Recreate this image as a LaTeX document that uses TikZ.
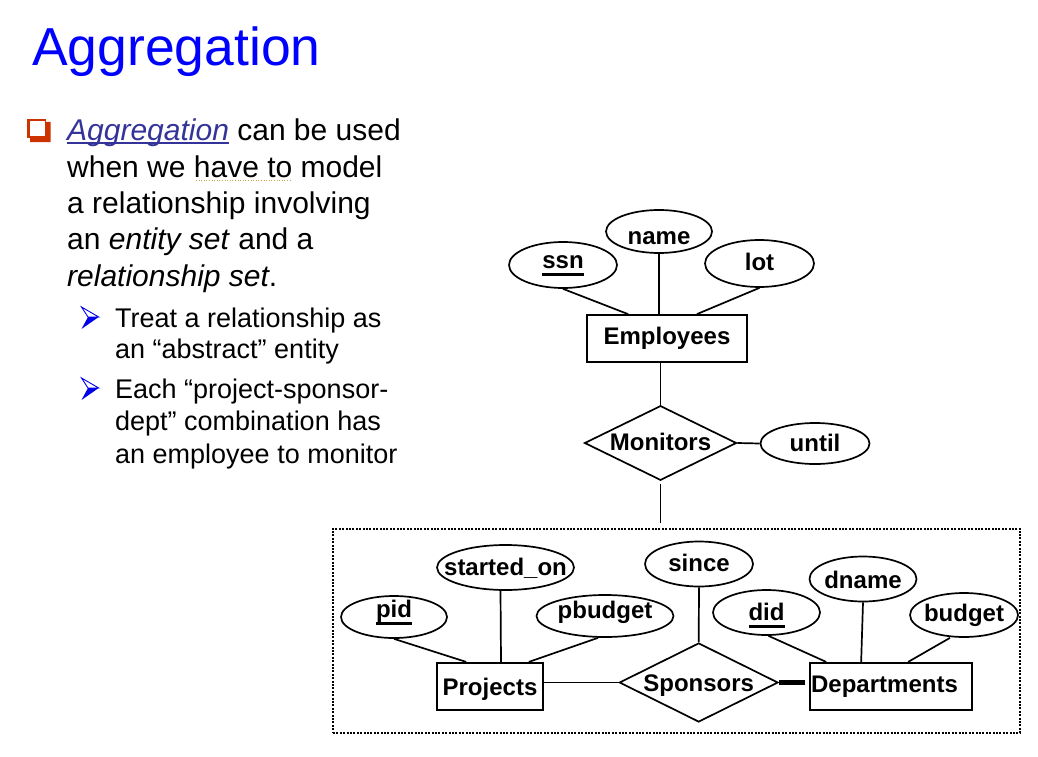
\documentclass[tikz,border=0pt]{standalone}
\usepackage{fontspec}
\setmainfont{Liberation Sans}
\usetikzlibrary{shapes.geometric}

\definecolor{titleblue}{RGB}{0,0,255}
\definecolor{linkblue}{RGB}{51,51,153}
\definecolor{bulletred}{RGB}{204,51,0}
\definecolor{arrowblue}{RGB}{0,0,235}
\definecolor{spellgold}{RGB}{205,160,80}

% thick underline for key attributes
\newsavebox\keybox
\newcommand\keyattr[1]{\sbox\keybox{#1}\rlap{\rule[-8pt]{\wd\keybox}{3.2pt}}\usebox\keybox}
% thin underline that runs through the descenders
\newcommand\linkul[1]{\sbox\keybox{#1}\rlap{\rule[-3.8pt]{\wd\keybox}{1.4pt}}\usebox\keybox}
% zero-width centred label, so the shape keeps its given size
\newcommand\zw[1]{\makebox[0pt]{#1}}

\begin{document}
\begin{tikzpicture}[x=1pt,y=-1pt,
  erfont/.style={font=\fontsize{24}{28}\selectfont\bfseries},
  attr/.style={ellipse, draw, line width=1.7pt, inner sep=0pt, erfont},
  ent/.style={rectangle, draw, line width=1.7pt, inner sep=0pt, erfont},
  rel/.style={diamond, aspect=2, draw, line width=1.7pt, inner sep=0pt, erfont},
  tb/.style={text height=#1, text depth=0pt},
  link/.style={line width=1.7pt},
  total/.style={line width=5pt},
  aggbox/.style={draw, line width=2pt, dash pattern=on 2pt off 1.4pt, inner sep=0pt},
  body/.style={anchor=base west, inner sep=0pt, font=\fontsize{30}{36}\selectfont},
  subbody/.style={anchor=base west, inner sep=0pt, font=\fontsize{27}{32}\selectfont}]

\useasboundingbox (0,0) rectangle (1038,757);
\fill[white] (0,0) rectangle (1038,757);

% ---------- title ----------
\node[anchor=base west, inner sep=0pt, text=titleblue,
      font=\fontsize{53.5}{60}\selectfont] (title) at (32,66) {Aggregation};

% ---------- bullet text ----------
% hollow square bullet with shadow
\fill[bulletred] (46,122) -- (50.5,122) -- (50.5,142) -- (30,142) -- (30,138) -- (46,138) -- cycle;
\fill[bulletred] (27.3,119) rectangle (46,138);
\fill[white] (30,120.7) rectangle (44.7,136);

\node[body] (l1) at (67,140) {\textcolor{linkblue}{\linkul{\textit{Aggregation}}} can be used};
\node[body] (l2) at (67,177) {when we have to model};
\node[body] (l3) at (67,213) {a relationship involving};
\node[body] (l4) at (67,249) {an \textit{entity set} and a};
\node[body] (l5) at (67,286) {\textit{relationship set}.};
\draw[spellgold, line width=1pt, dash pattern=on 1pt off 1.6pt] (196,180) -- (292,180);

% arrow-head sub-bullets
\foreach \dy in {0,71}{
  \draw[arrowblue, line width=0.9pt, line join=miter] (81.5,307+\dy) -- (98.7,317+\dy) -- (88,317+\dy) -- cycle;
  \fill[arrowblue] (88,317+\dy) -- (98.7,317+\dy) -- (81.5,329+\dy) -- cycle;
}
\node[subbody] (s1) at (115,327) {Treat a relationship as};
\node[subbody] (s2) at (115,358) {an “abstract” entity};
\node[subbody] (s3) at (115,398) {Each “project-sponsor-};
\node[subbody] (s4) at (115,430) {dept” combination has};
\node[subbody] (s5) at (115,463) {an employee to monitor};

% ---------- ER diagram: Employees / Monitors ----------
\node[ent, minimum width=160pt, minimum height=47pt] (emp) at (667,338.5) {Employees};
\node[attr, minimum width=108pt, minimum height=46pt, tb=6pt]   (ssn)  at (563,265)     {\zw{\keyattr{ssn}}};
\node[attr, minimum width=106pt, minimum height=43pt, tb=25.6pt] (name) at (659,231.5) {\zw{name}};
\node[attr, minimum width=109pt, minimum height=47pt, tb=13pt]  (lot)  at (759.5,263.5) {\zw{lot}};
\node[rel, minimum width=152pt, minimum height=74.6pt, tb=15pt] (mon)  at (660.5,443)   {Monitors};
\node[attr, minimum width=109pt, minimum height=41pt, tb=16pt]  (until) at (815,443.5) {\zw{until}};

\draw[link] (ssn.south) -- ([xshift=42pt]emp.north west);
\draw[link] (name.south) -- (name.south |- emp.north);
\draw[link] (lot.south) -- ([xshift=-51pt]emp.north east);
\draw[link] (mon.north |- emp.south) -- (mon.north);
\draw[link] (mon.east) -- (until.west);

% ---------- aggregated relationship ----------
\node[aggbox, minimum width=687pt, minimum height=204.5pt] (agg) at (676.5,630.75) {};
\draw[link, shorten <=3pt, shorten >=5pt] (mon.south) -- (mon.south |- agg.north);

\node[ent, minimum width=106pt, minimum height=47.3pt, tb=17.2pt] (proj) at (490,686.4) {Projects};
\node[ent, minimum width=162pt, minimum height=47.3pt] (dept) at (891,686.4) {Departments\kern13pt};
\node[rel, minimum width=158.7pt, minimum height=79pt, tb=17.6pt] (spon) at (698.7,682.5) {Sponsors};

\node[attr, minimum width=137pt, minimum height=45pt, tb=15pt]   (started) at (505.5,567.5) {\zw{started\_on}};
\node[attr, minimum width=106pt, minimum height=42pt, tb=0.6pt]  (pid)     at (394,617)     {\zw{\keyattr{pid}}};
\node[attr, minimum width=137pt, minimum height=42pt, tb=4.6pt]  (pbudget) at (605,616)     {\zw{pbudget}};
\node[attr, minimum width=108pt, minimum height=45pt, tb=15.4pt] (since)   at (699,564)     {\zw{since}};
\node[attr, minimum width=107pt, minimum height=45pt, tb=15pt]   (did)     at (766.5,612.5) {\zw{\keyattr{did}}};
\node[attr, minimum width=107pt, minimum height=45pt, tb=18.6pt] (dname)   at (863,579)     {\zw{dname}};
\node[attr, minimum width=108pt, minimum height=44pt, tb=13.4pt] (budget)  at (964,615)     {\zw{budget}};

\draw[link] (pid.south) -- ([xshift=30pt]proj.north west);
\draw[link] ([xshift=-5pt]started.south) -- ([xshift=11pt]proj.north);
\draw[link] ([xshift=-7pt]pbudget.south) -- ([xshift=-15pt]proj.north east);
\draw[link] (proj.east |- spon.west) -- (spon.west);
\draw[link] (since.south) -- (spon.north);
\draw[link] ([xshift=2pt]did.south) -- ([xshift=17pt]dept.north west);
\draw[link] (dname.south) -- ([xshift=52pt]dept.north west);
\draw[link] ([xshift=-14pt]budget.south) -- ([xshift=99pt]dept.north west);
\draw[total, shorten >=4pt] (spon.east) -- (spon.east -| dept.west);
\end{tikzpicture}
\end{document}
